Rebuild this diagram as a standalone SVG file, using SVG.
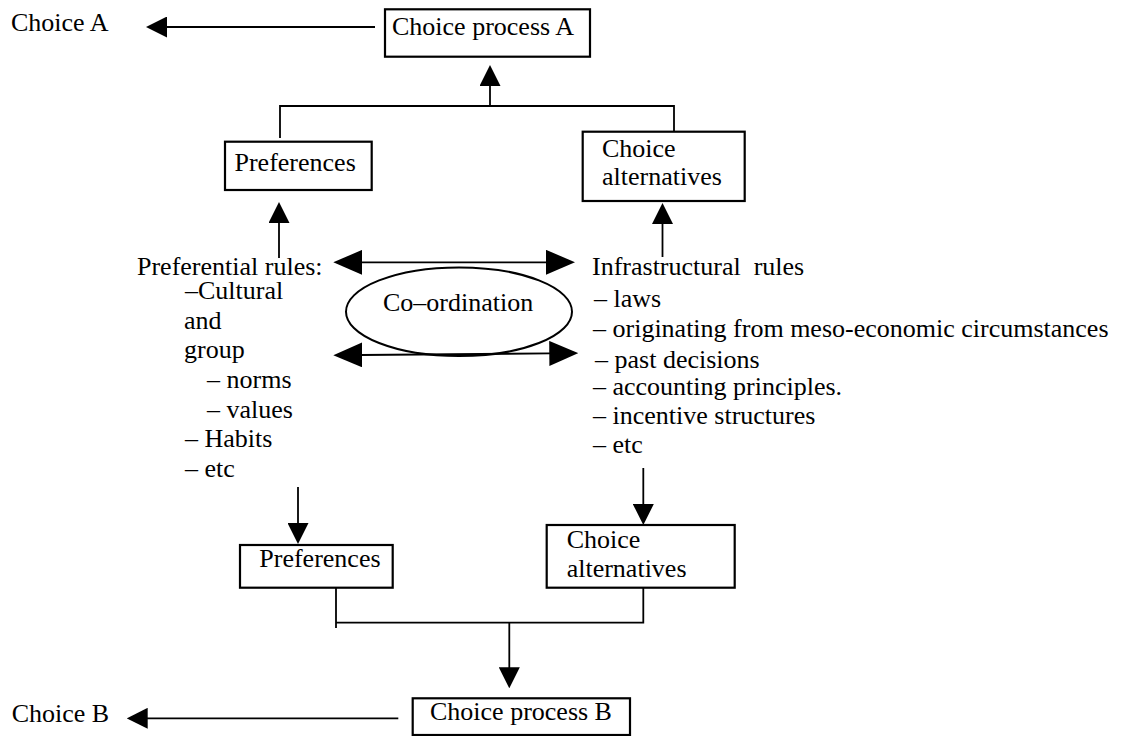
<svg xmlns="http://www.w3.org/2000/svg" width="1123" height="736" viewBox="0 0 1123 736">
  <style>
    text { font-family: "Liberation Serif", "Times New Roman", serif; font-size: 26px; fill: #000; }
    .pre { white-space: pre; }
    .box { fill: #fff; stroke: #000; stroke-width: 2.2; }
    .ell { fill: none; stroke: #000; stroke-width: 2; }
    .wire { fill: none; stroke: #000; stroke-width: 1.8; }
    .arrow { marker-end: url(#head); }
    .both { marker-start: url(#bighead); marker-end: url(#bighead); }
  </style>
  <defs>
    <marker id="head" markerUnits="userSpaceOnUse" markerWidth="21" markerHeight="21" viewBox="0 0 21 21" refX="1" refY="10.5" orient="auto-start-reverse">
      <path d="M0,0 L21,10.5 L0,21 Z" fill="#000"/>
    </marker>
    <marker id="bighead" markerUnits="userSpaceOnUse" markerWidth="29" markerHeight="25" viewBox="0 0 29 25" refX="1" refY="12.5" orient="auto-start-reverse">
      <path d="M0,0 L29,12.5 L0,25 Z" fill="#000"/>
    </marker>
  </defs>

  <!-- connectors -->
  <g id="connectors">
    <path class="wire arrow" d="M375,27 L166,27"/>
    <path class="wire arrow" d="M490,106 L490,85"/>
    <path class="wire" d="M280,138 L280,106 L674,106 L674,135"/>
    <path class="wire arrow" d="M279,258 L279,222"/>
    <path class="wire arrow" d="M662.5,257 L662.5,223"/>
    <path class="wire both" d="M361.3,262.3 L547,262.3"/>
    <path class="wire both" d="M361.3,355 L550.3,353.4"/>
    <path class="wire arrow" d="M298,487 L298,524"/>
    <path class="wire arrow" d="M643.3,468 L643.3,505"/>
    <path class="wire" d="M336,583 L336,628"/>
    <path class="wire" d="M336,622.7 L643.3,622.7 L643.3,583"/>
    <path class="wire arrow" d="M509.3,622.7 L509.3,668.3"/>
    <path class="wire arrow" d="M398.3,718.3 L146.7,718.3"/>
  </g>

  <g id="choice-a">
    <text x="11" y="31">Choice A</text>
  </g>

  <g id="choice-process-a">
    <rect class="box" x="385" y="9.3" width="205" height="47.4"/>
    <text x="392" y="35">Choice process A</text>
  </g>

  <g id="preferences-top">
    <rect class="box" x="225" y="141.7" width="146.7" height="48.3"/>
    <text x="234.5" y="170.7">Preferences</text>
  </g>

  <g id="alternatives-top">
    <rect class="box" x="582.7" y="131.7" width="162" height="69.3"/>
    <text x="602" y="157">Choice</text>
    <text x="602" y="185">alternatives</text>
  </g>

  <g id="preferential-rules">
    <text x="137" y="275">Preferential rules:</text>
    <text x="185" y="299.3">–Cultural</text>
    <text x="184" y="329.3">and</text>
    <text x="184" y="358.3">group</text>
    <text x="207" y="388.3">– norms</text>
    <text x="207" y="418.3">– values</text>
    <text x="185" y="447.3">– Habits</text>
    <text x="185" y="477.3">– etc</text>
  </g>

  <g id="coordination">
    <ellipse class="ell" cx="459" cy="311.7" rx="113" ry="44.3"/>
    <text x="383" y="311">Co–ordination</text>
  </g>

  <g id="infrastructural-rules">
    <text class="pre" x="592" y="275">Infrastructural  rules</text>
    <text x="594" y="306.7">– laws</text>
    <text x="593" y="336.7">– originating from meso-economic circumstances</text>
    <text x="595" y="367.7">– past decisions</text>
    <text x="593" y="395">– accounting principles.</text>
    <text x="593" y="424.3">– incentive structures</text>
    <text x="593" y="453.3">– etc</text>
  </g>

  <g id="preferences-bottom">
    <rect class="box" x="240" y="545" width="152.7" height="42.7"/>
    <text x="259.3" y="566.7">Preferences</text>
  </g>

  <g id="alternatives-bottom">
    <rect class="box" x="546.7" y="525" width="188" height="62.7"/>
    <text x="566.7" y="548.3">Choice</text>
    <text x="566.7" y="577.3">alternatives</text>
  </g>

  <g id="choice-process-b">
    <rect class="box" x="412.7" y="698.3" width="217.3" height="36.7"/>
    <text x="430" y="720">Choice process B</text>
  </g>

  <g id="choice-b">
    <text x="11.7" y="721.7">Choice B</text>
  </g>
</svg>
